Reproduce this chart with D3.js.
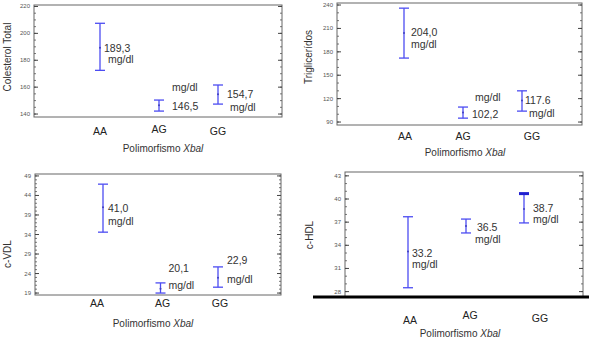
<!DOCTYPE html>
<html>
<head>
<meta charset="utf-8">
<script src="https://cdn.jsdelivr.net/npm/d3@7"></script>
<style>
  body { margin: 0; background: #fff; }
  svg { font-family: "Liberation Sans", Arial, sans-serif; }
</style>
</head>
<body>
<svg id="chart" width="589" height="338"></svg>
<script>
// data
const groups = ['AA', 'AG', 'GG']

const colMean = [189.3, 146.5, 154.7]
const colLow = [172.5, 142.2, 147.4]
const colHigh = [207.5, 150.4, 161.6]
const colLabels = ['189,3', '146,5', '154,7']
const colTicks = [140, 160, 180, 200, 220]

const triMean = [204.0, 102.2, 117.6]
const triLow = [172, 95, 104]
const triHigh = [236, 109.2, 130]
const triLabels = ['204,0', '102,2', '117.6']
const triTicks = [90, 120, 150, 180, 210, 240]

const vdlMean = [41.0, 20.1, 22.9]
const vdlLow = [34.6, 19.0, 20.5]
const vdlHigh = [46.9, 21.6, 25.7]
const vdlLabels = ['41,0', '20,1', '22,9']
const vdlTicks = [19, 24, 29, 34, 39, 44, 49]

const hdlMean = [33.2, 36.5, 38.7]
const hdlLow = [28.5, 35.6, 36.9]
const hdlHigh = [37.7, 37.4, 40.7]
const hdlLabels = ['33.2', '36.5', '38.7']
const hdlTicks = [28, 31, 34, 37, 40, 43]

const svg = d3.select('#chart')
const barColor = '#4c4cf2'
const textColor = '#333'

/**
 * draw one mean +/- interval panel
 */
function drawPanel(p) {
  const g = svg.append('g')
  const y = d3.scaleLinear().domain(p.yDomain).range([p.bottom, p.top])
  const x = d3.scalePoint().domain(groups).range(p.xRange)

  // frame
  g.append('rect')
    .attr('x', p.left).attr('y', p.top)
    .attr('width', p.right - p.left).attr('height', p.bottom - p.top)
    .attr('fill', 'none').attr('stroke', '#666').attr('stroke-width', 1)

  // ticks on both sides, pointing inward
  const minor = d3.range(p.ticks[0], p.ticks[p.ticks.length - 1] + 1e-6, p.minorStep)
  ;[[p.left, 1], [p.right, -1]].forEach(([ex, dir]) => {
    g.selectAll(null).data(minor).enter().append('line')
      .attr('x1', ex).attr('x2', ex + dir * 2)
      .attr('y1', d => y(d)).attr('y2', d => y(d))
      .attr('stroke', '#555').attr('stroke-width', 0.8)
    g.selectAll(null).data(p.ticks).enter().append('line')
      .attr('x1', ex).attr('x2', ex + dir * 4)
      .attr('y1', d => y(d)).attr('y2', d => y(d))
      .attr('stroke', '#444').attr('stroke-width', 1)
  })

  g.selectAll(null).data(p.ticks).enter().append('text')
    .attr('x', p.left - 4).attr('y', d => y(d) + 2)
    .attr('text-anchor', 'end')
    .attr('font-size', 6).attr('fill', '#555')
    .text(d => d)

  if (p.thickBottom) {
    g.append('line')
      .attr('x1', p.thickBottom[0]).attr('x2', p.thickBottom[1])
      .attr('y1', p.bottom).attr('y2', p.bottom)
      .attr('stroke', '#000').attr('stroke-width', 3)
  }

  // error bars
  groups.forEach((grp, i) => {
    const cx = x(grp)
    g.append('line')
      .attr('x1', cx).attr('x2', cx)
      .attr('y1', y(p.high[i])).attr('y2', y(p.low[i]))
      .attr('stroke', barColor).attr('stroke-width', 1.3)
    ;[p.high[i], p.low[i]].forEach((v, k) => {
      const thick = p.thickCap && p.thickCap[0] === i && k === 0
      g.append('line')
        .attr('x1', cx - 5).attr('x2', cx + 5)
        .attr('y1', y(v)).attr('y2', y(v))
        .attr('stroke', thick ? '#2020d0' : barColor)
        .attr('stroke-width', thick ? 3 : 1.3)
    })
    g.append('circle')
      .attr('cx', cx).attr('cy', y(p.mean[i])).attr('r', 1)
      .attr('fill', '#4040c0')

    // value label and unit
    const lo = p.labelOff[i]
    const my = y(p.mean[i])
    g.append('text')
      .attr('x', cx + lo[0]).attr('y', my + lo[1])
      .attr('font-size', 10.5).attr('fill', textColor)
      .text(p.labels[i])
    g.append('text')
      .attr('x', cx + lo[2]).attr('y', my + lo[3])
      .attr('font-size', 10.5).attr('fill', textColor)
      .text('mg/dl')

    // category label
    g.append('text')
      .attr('x', cx + p.catOff[i][0]).attr('y', p.catOff[i][1])
      .attr('text-anchor', 'middle')
      .attr('font-size', 10.5).attr('fill', '#222')
      .text(grp)
  })

  // axis titles
  const xt = g.append('text')
    .attr('x', p.xTitle[0]).attr('y', p.xTitle[1])
    .attr('text-anchor', 'middle')
    .attr('font-size', 10).attr('fill', textColor)
  xt.append('tspan').text('Polimorfismo ')
  xt.append('tspan').attr('font-style', 'italic').text('Xbal')

  g.append('text')
    .attr('transform', `translate(${p.yTitle[0]},${p.yTitle[1]}) rotate(-90)`)
    .attr('text-anchor', 'middle')
    .attr('font-size', 10).attr('fill', textColor)
    .text(p.yName)
}

drawPanel({
  yName: 'Colesterol Total', mean: colMean, low: colLow, high: colHigh, labels: colLabels,
  ticks: colTicks, minorStep: 5, yDomain: [137.8, 221.1],
  left: 34, right: 282, top: 5, bottom: 117, xRange: [100, 218],
  labelOff: [[4, 4, 8, 15], [13, 5, 13, -14], [9, 4, 12, 17]],
  catOff: [[0, 135], [0, 133], [0, 135]],
  xTitle: [163, 152], yTitle: [11, 57]
})

drawPanel({
  yName: 'Triglicerídos', mean: triMean, low: triLow, high: triHigh, labels: triLabels,
  ticks: triTicks, minorStep: 10, yDomain: [86.2, 242.6],
  left: 337, right: 582, top: 3, bottom: 125, xRange: [404, 522],
  labelOff: [[7, 3, 7, 15], [9, 5.5, 12, -12], [3, 3.5, 7, 16.5]],
  catOff: [[1, 140], [0, 140], [10, 140]],
  xTitle: [465, 156], yTitle: [312, 57]
})

drawPanel({
  yName: 'c-VDL', mean: vdlMean, low: vdlLow, high: vdlHigh, labels: vdlLabels,
  ticks: vdlTicks, minorStep: 1, yDomain: [18.5, 49.5],
  left: 35, right: 281, top: 174, bottom: 295, xRange: [103, 218],
  labelOff: [[5, 5, 5, 18], [8, -17, 8, 0], [9, -14, 9, 5]],
  catOff: [[-6, 307], [2, 307], [2, 307]],
  xTitle: [153, 327], yTitle: [11, 254]
})

drawPanel({
  yName: 'c-HDL', mean: hdlMean, low: hdlLow, high: hdlHigh, labels: hdlLabels,
  ticks: hdlTicks, minorStep: 1, yDomain: [27.3, 43.5],
  left: 345, right: 583, top: 172, bottom: 297, xRange: [408, 524],
  labelOff: [[4, 6, 4, 17], [11, 5, 9, 17], [9, 3, 9, 14]],
  catOff: [[2, 324], [4, 319], [16, 322]],
  xTitle: [460, 337], yTitle: [313, 235],
  thickBottom: [313, 589], thickCap: [2]
})
</script>
</body>
</html>
